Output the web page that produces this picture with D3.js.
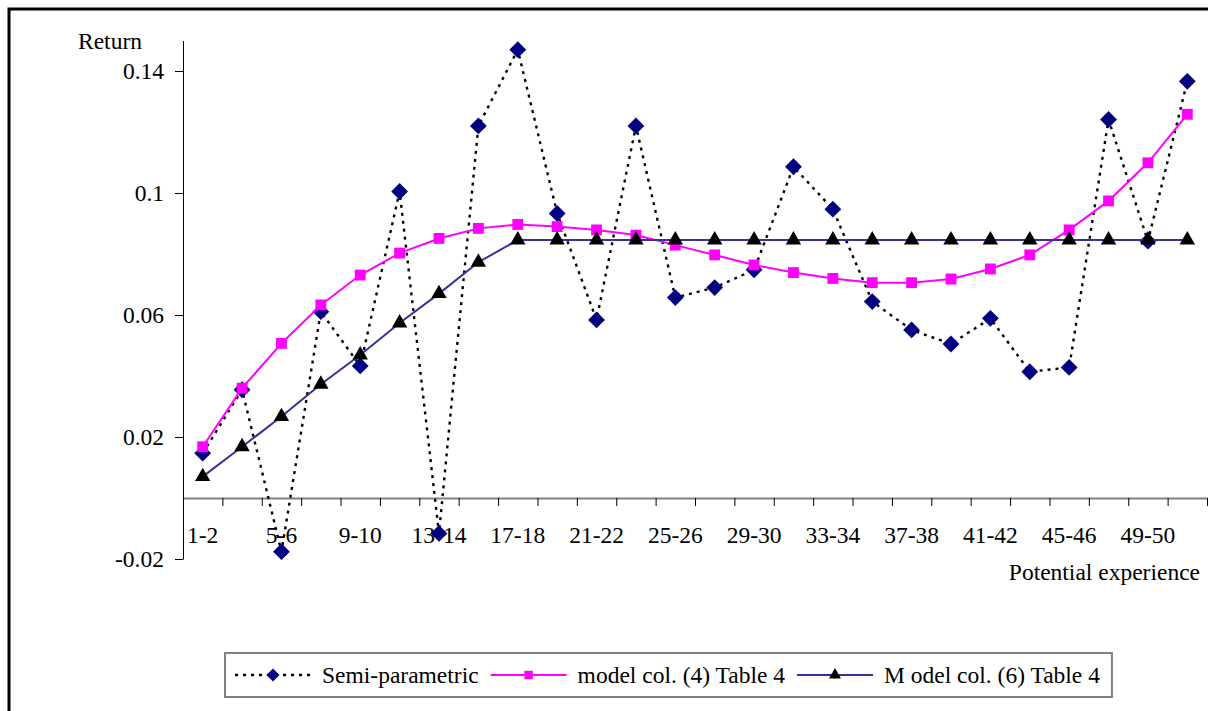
<!DOCTYPE html>
<html>
<head>
<meta charset="utf-8">
<script src="https://cdn.jsdelivr.net/npm/d3@7"></script>
<style>
  body { margin: 0; background: #fff; }
  text { font-family: "Liberation Serif", "Times New Roman", serif; fill: #000; }
</style>
</head>
<body>
<script>
'use strict';

let categories = ["1-2", "3-4", "5-6", "7-8", "9-10", "11-12", "13-14", "15-16", "17-18", "19-20",
  "21-22", "23-24", "25-26", "27-28", "29-30", "31-32", "33-34", "35-36", "37-38", "39-40",
  "41-42", "43-44", "45-46", "47-48", "49-50", "51-52"];

let semiParametric = [0.0147, 0.0355, -0.0176, 0.0611, 0.0433, 0.1005, -0.0116, 0.1220, 0.1470, 0.0933,
  0.0584, 0.1220, 0.0657, 0.0690, 0.0748, 0.1086, 0.0947, 0.0644, 0.0551, 0.0505,
  0.0589, 0.0414, 0.0428, 0.1241, 0.0842, 0.1366];

let modelCol4 = [0.0168, 0.0360, 0.0507, 0.0633, 0.0731, 0.0803, 0.0851, 0.0884, 0.0897, 0.0890,
  0.0879, 0.0862, 0.0829, 0.0797, 0.0764, 0.0739, 0.0720, 0.0706, 0.0706, 0.0718,
  0.0751, 0.0797, 0.0879, 0.0974, 0.1099, 0.1258];

let modelCol6 = [0.0070, 0.0168, 0.0267, 0.0373, 0.0469, 0.0574, 0.0670, 0.0773, 0.0846, 0.0846,
  0.0846, 0.0846, 0.0846, 0.0846, 0.0846, 0.0846, 0.0846, 0.0846, 0.0846, 0.0846,
  0.0846, 0.0846, 0.0846, 0.0846, 0.0846, 0.0846];

let yTicks = [-0.02, 0.02, 0.06, 0.1, 0.14];
let yTickLabels = ["-0.02", "0.02", "0.06", "0.1", "0.14"];
let xLabelCategories = categories.filter((d, i) => i % 2 == 0);
let seriesNames = ["Semi-parametric", "model col. (4) Table 4", "M odel col. (6) Table 4"];

(function () {
  let svg = "";

  window.onload = function () {
    svg = d3.select('body')
      .append('svg')
      .attr('width', 1208)
      .attr('height', 711);

    // outer frame
    svg.append('rect')
      .attr('x', 9)
      .attr('y', 9)
      .attr('width', 1220)
      .attr('height', 730)
      .attr('fill', 'none')
      .attr('stroke', '#000')
      .attr('stroke-width', 3);

    let funcs = drawAxes();
    let series = [
      { name: seriesNames[0], values: semiParametric, line: '#000', dash: '3,5', width: 2.4, marker: d3.symbolDiamond2, size: 180, fill: '#000080' },
      { name: seriesNames[1], values: modelCol4, line: '#ff00ff', dash: null, width: 2, marker: d3.symbolSquare2, size: 150, fill: '#ff00ff' },
      { name: seriesNames[2], values: modelCol6, line: '#333399', dash: null, width: 2, marker: d3.symbolTriangle2, size: 170, fill: '#000' }
    ];
    series.forEach((s) => plotSeries(funcs, s));
    makeLegend(series);
  }

  function drawAxes() {
    let xBand = d3.scaleBand()
      .domain(categories)
      .range([183, 1207]);
    let xEdge = d3.scaleLinear()
      .domain([0, categories.length])
      .range([183, 1207]);
    let yScale = d3.scaleLinear()
      .domain([-0.02, 0.15])
      .range([559, 40.5]);
    let zeroY = yScale(0);

    // x axis ticks at category boundaries
    let xTickAxis = d3.axisBottom(xEdge)
      .tickValues(d3.range(1, categories.length + 1))
      .tickSize(8)
      .tickSizeOuter(0)
      .tickFormat("");
    let gx = svg.append('g')
      .attr('transform', 'translate(0, ' + zeroY + ')')
      .call(xTickAxis);
    gx.select('.domain').attr('stroke', '#808080').attr('stroke-width', 2);
    gx.selectAll('.tick line').attr('stroke', '#000');

    let xLabelAxis = d3.axisBottom(xBand)
      .tickValues(xLabelCategories)
      .tickSize(0)
      .tickPadding(19);
    let gl = svg.append('g')
      .attr('transform', 'translate(0, ' + zeroY + ')')
      .call(xLabelAxis);
    gl.select('.domain').remove();
    gl.selectAll('text')
      .attr('dy', '1.1em')
      .style('font-size', '23.5px')
      .style('font-family', '"Liberation Serif", serif');

    let yAxis = d3.axisLeft(yScale)
      .tickValues(yTicks)
      .tickSize(8)
      .tickSizeOuter(0)
      .tickPadding(11)
      .tickFormat((d, i) => yTickLabels[i]);
    let gy = svg.append('g')
      .attr('transform', 'translate(183, 0)')
      .call(yAxis);
    gy.selectAll('text')
      .style('font-size', '23.5px')
      .style('font-family', '"Liberation Serif", serif');

    svg.append('text')
      .attr('x', 78)
      .attr('y', 49)
      .style('font-size', '23.5px')
      .text('Return');

    svg.append('text')
      .attr('x', 1200)
      .attr('y', 580)
      .attr('text-anchor', 'end')
      .style('font-size', '23.5px')
      .text('Potential experience');

    return {
      x: (i) => xBand(categories[i]) + xBand.bandwidth() / 2,
      y: yScale
    };
  }

  function plotSeries(funcs, s) {
    let line = d3.line()
      .x((d, i) => funcs.x(i))
      .y((d) => funcs.y(d));
    svg.append('path')
      .datum(s.values)
      .attr('fill', 'none')
      .attr('stroke', s.line)
      .attr('stroke-width', s.width)
      .attr('stroke-dasharray', s.dash)
      .attr('d', line);

    svg.append('g')
      .selectAll('path')
      .data(s.values)
      .enter()
      .append('path')
      .attr('transform', (d, i) => 'translate(' + funcs.x(i) + ',' + funcs.y(d) + ')')
      .attr('d', d3.symbol().type(s.marker).size(s.size))
      .attr('fill', s.fill);
  }

  function makeLegend(series) {
    let legend = svg.append('g');
    let box = legend.append('rect')
      .attr('fill', '#fff')
      .attr('stroke', '#808080')
      .attr('stroke-width', 2);
    let cx = 235;
    let cy = 675;
    series.forEach((s) => {
      legend.append('line')
        .attr('x1', cx)
        .attr('x2', cx + 76)
        .attr('y1', cy)
        .attr('y2', cy)
        .attr('stroke', s.line)
        .attr('stroke-width', s.width)
        .attr('stroke-dasharray', s.dash);
      legend.append('path')
        .attr('transform', 'translate(' + (cx + 38) + ',' + cy + ')')
        .attr('d', d3.symbol().type(s.marker).size(s.size * 0.6))
        .attr('fill', s.fill);
      let t = legend.append('text')
        .attr('x', cx + 87)
        .attr('y', cy + 8)
        .style('font-size', '23.5px')
        .text(s.name);
      cx = cx + 87 + t.node().getComputedTextLength() + 12;
    });
    box.attr('x', 225)
      .attr('y', 653)
      .attr('width', cx - 225)
      .attr('height', 44);
  }
})();
</script>
</body>
</html>
